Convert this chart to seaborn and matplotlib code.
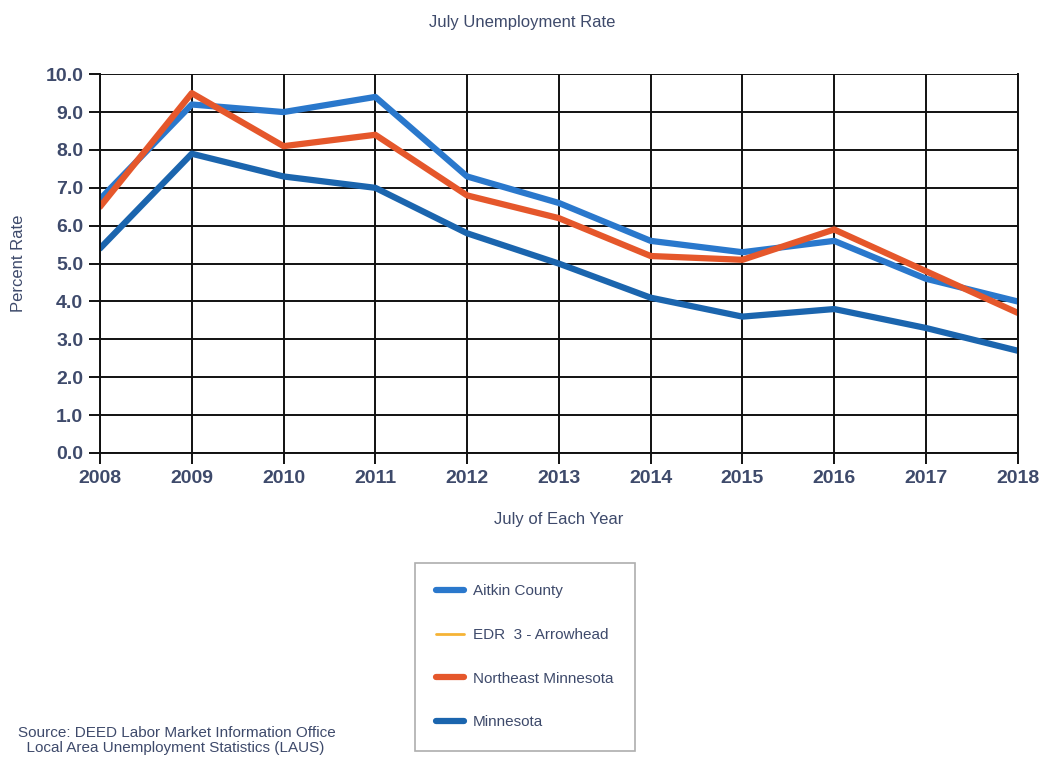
import matplotlib
matplotlib.use("Agg")
import matplotlib.pyplot as plt
import seaborn as sns
import pandas as pd
from matplotlib import font_manager
from matplotlib.lines import Line2D

years = [2008, 2009, 2010, 2011, 2012, 2013, 2014, 2015, 2016, 2017, 2018]
aitkin = [6.7, 9.2, 9.0, 9.4, 7.3, 6.6, 5.6, 5.3, 5.6, 4.6, 4.0]
edr3 = [6.5, 9.5, 8.1, 8.4, 6.8, 6.2, 5.2, 5.1, 5.9, 4.8, 3.7]
northeast = [6.5, 9.5, 8.1, 8.4, 6.8, 6.2, 5.2, 5.1, 5.9, 4.8, 3.7]
minnesota = [5.4, 7.9, 7.3, 7.0, 5.8, 5.0, 4.1, 3.6, 3.8, 3.3, 2.7]
series_names = ["Aitkin County", "EDR  3 - Arrowhead", "Northeast Minnesota", "Minnesota"]
y_ticks = [0, 1, 2, 3, 4, 5, 6, 7, 8, 9, 10]

sns.set_style("white")
names = {f.name for f in font_manager.fontManager.ttflist}
fam = "Liberation Sans Narrow" if "Liberation Sans Narrow" in names else "Liberation Sans"
plt.rcParams["font.family"] = [fam, "DejaVu Sans"]
txt = "#3e4a6b"

df = pd.DataFrame({
    "year": years * 4,
    "rate": aitkin + edr3 + northeast + minnesota,
    "series": sum([[n] * len(years) for n in series_names], []),
})
palette = {
    "Aitkin County": "#2a78cc",
    "EDR  3 - Arrowhead": "#f5b335",
    "Northeast Minnesota": "#e5572b",
    "Minnesota": "#1b65ae",
}
sizes = {
    "Aitkin County": 4.5,
    "EDR  3 - Arrowhead": 2.0,
    "Northeast Minnesota": 4.5,
    "Minnesota": 4.5,
}

fig = plt.figure(figsize=(10.44, 7.57), dpi=100)
ax = fig.add_axes([0.0958, 0.4016, 0.879, 0.5004])

sns.lineplot(data=df, x="year", y="rate", hue="series", size="series",
             sizes=sizes, palette=palette, hue_order=series_names,
             ax=ax, legend=False)

ax.set_xlim(2008, 2018)
ax.set_ylim(0, 10)
ax.set_xticks(years)
ax.set_xticklabels([str(y) for y in years], fontsize=14, color=txt, fontweight="bold")
ax.set_yticks(y_ticks)
ax.set_yticklabels([f"{v:.1f}" for v in y_ticks], fontsize=14, color=txt, fontweight="bold")
ax.grid(True, color="#111111", linewidth=1.4)
ax.set_axisbelow(True)
for s in ax.spines.values():
    s.set_color("#111111")
    s.set_linewidth(1.4)
ax.spines["top"].set_visible(False)
ax.tick_params(axis="both", which="both", direction="out", length=8, width=1.4,
               color="#111111", left=True, bottom=True, pad=4)
ax.set_xlabel("July of Each Year", fontsize=12, color=txt, labelpad=18)
ax.set_ylabel("Percent Rate", fontsize=12, color=txt, labelpad=14)

fig.text(0.5, 0.970, "July Unemployment Rate", ha="center", va="center",
         fontsize=12, color=txt)

handles = [Line2D([], [], color=palette[n], lw=(4.5 if sizes[n] > 3 else 2.0)) for n in series_names]
leg = fig.legend(handles, series_names, loc="upper left",
                 bbox_to_anchor=(415 / 1044, 1 - 563 / 757),
                 frameon=True, fancybox=False, fontsize=11,
                 labelspacing=1.94, borderpad=1.4, handlelength=1.8,
                 handletextpad=0.6, borderaxespad=0)
leg.get_frame().set_edgecolor("#9a9a9a")
leg.get_frame().set_linewidth(1.2)
for t in leg.get_texts():
    t.set_color(txt)

fig.text(0.017, 0.022, "Source: DEED Labor Market Information Office\n  Local Area Unemployment Statistics (LAUS)",
         ha="left", va="center", fontsize=11, color=txt, linespacing=1.05)

fig.savefig("out.png", dpi=100, facecolor="white")
